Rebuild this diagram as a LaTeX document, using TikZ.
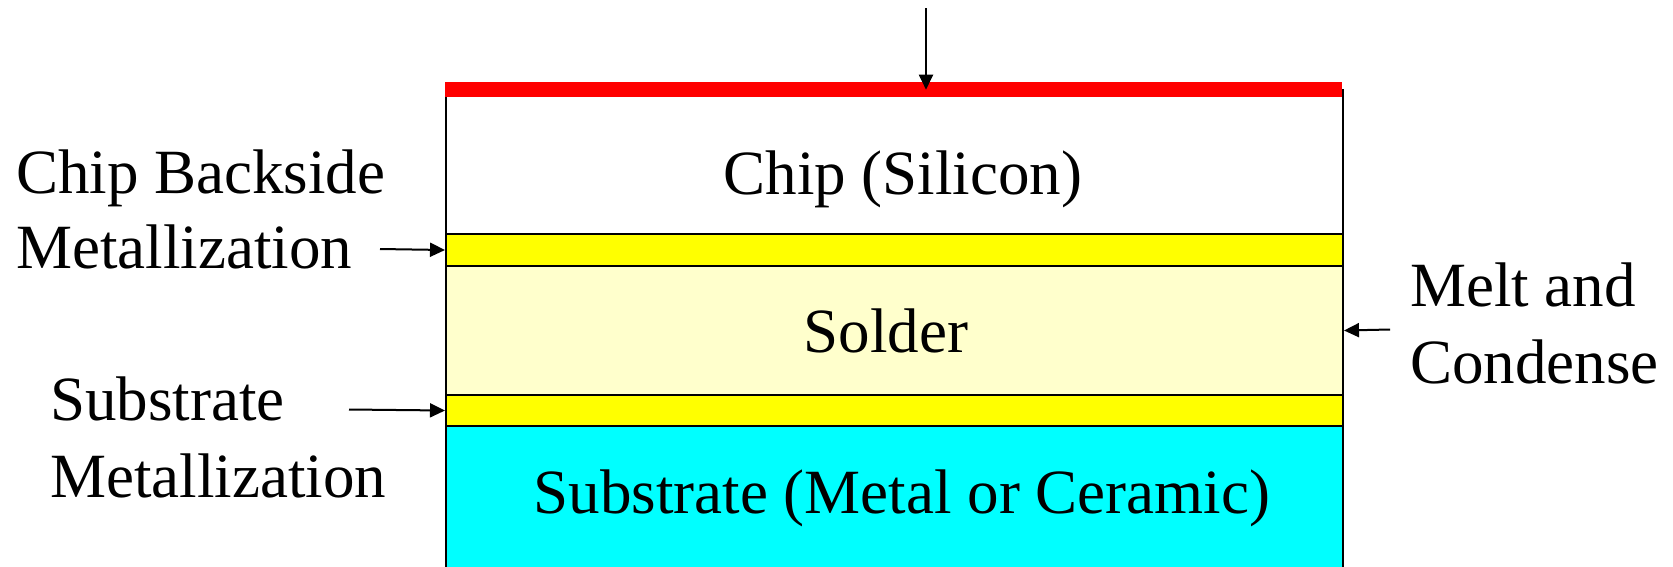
\documentclass[tikz,border=0pt]{standalone}
\usepackage{fontspec}
\setmainfont{Liberation Serif}
\usetikzlibrary{arrows.meta}
\definecolor{solderfill}{HTML}{FFFFCC}
\definecolor{metalfill}{HTML}{FFFF00}
\definecolor{subfill}{HTML}{00FFFF}
\begin{document}
\begin{tikzpicture}[x=1pt,y=-1pt,
  layer/.style={draw=black,line width=2pt,rectangle,inner sep=0pt,
    minimum width=897pt,anchor=north west},
  lbl/.style={inner sep=0pt,anchor=base west,font=\fontsize{63}{76}\selectfont},
  inlbl/.style={inner sep=0pt,anchor=base,font=\fontsize{63}{76}\selectfont},
  pointer/.style={line width=2pt,-{Triangle[length=15pt,width=14pt]}}]
\useasboundingbox (0,0) rectangle (1673,566);
\clip (0,0) rectangle (1673,566);
% stack of layers, top to bottom
\node[layer,fill=white,minimum height=144pt] (chip) at (445,89) {};
\node[layer,fill=metalfill,minimum height=32pt] (cbm) at (445,233) {};
\node[layer,fill=solderfill,minimum height=129pt] (solder) at (445,265) {};
\node[layer,fill=metalfill,minimum height=31pt] (sm) at (445,394) {};
\node[layer,fill=subfill,minimum height=160pt] (sub) at (445,425) {};
% red surface film on top of the chip
\node[rectangle,fill=red,inner sep=0pt,minimum width=897pt,minimum height=15pt,anchor=north west] (film) at (445,82) {};
% layer names
\node[inlbl] (chiptxt) at (903,194) {Chip (Silicon)};
\node[inlbl] (soldertxt) at (886,352) {Solder};
\node[inlbl] (subtxt) at (902,513) {Substrate (Metal or Ceramic)};
% side labels
\node[lbl] (cbmA) at (16,193) {Chip Backside};
\node[lbl] (cbmB) at (16,268) {Metallization};
\node[lbl] (smA) at (50,420) {Substrate};
\node[lbl] (smB) at (50,497) {Metallization};
\node[lbl] (meltA) at (1410,306) {Melt and};
\node[lbl] (meltB) at (1410,383) {Condense};
% arrows
\coordinate (topsrc) at (926,8);
\coordinate (cbmsrc) at (380,249);
\coordinate (smsrc) at (349,409.5);
\coordinate (meltsrc) at (1390,329.5);
\draw[pointer] (topsrc) -- (topsrc |- film.center);
\draw[pointer] (cbmsrc) -- (cbm.west);
\draw[pointer] (smsrc) -- (sm.west);
\draw[pointer] (meltsrc) -- (solder.east);
\end{tikzpicture}
\end{document}
